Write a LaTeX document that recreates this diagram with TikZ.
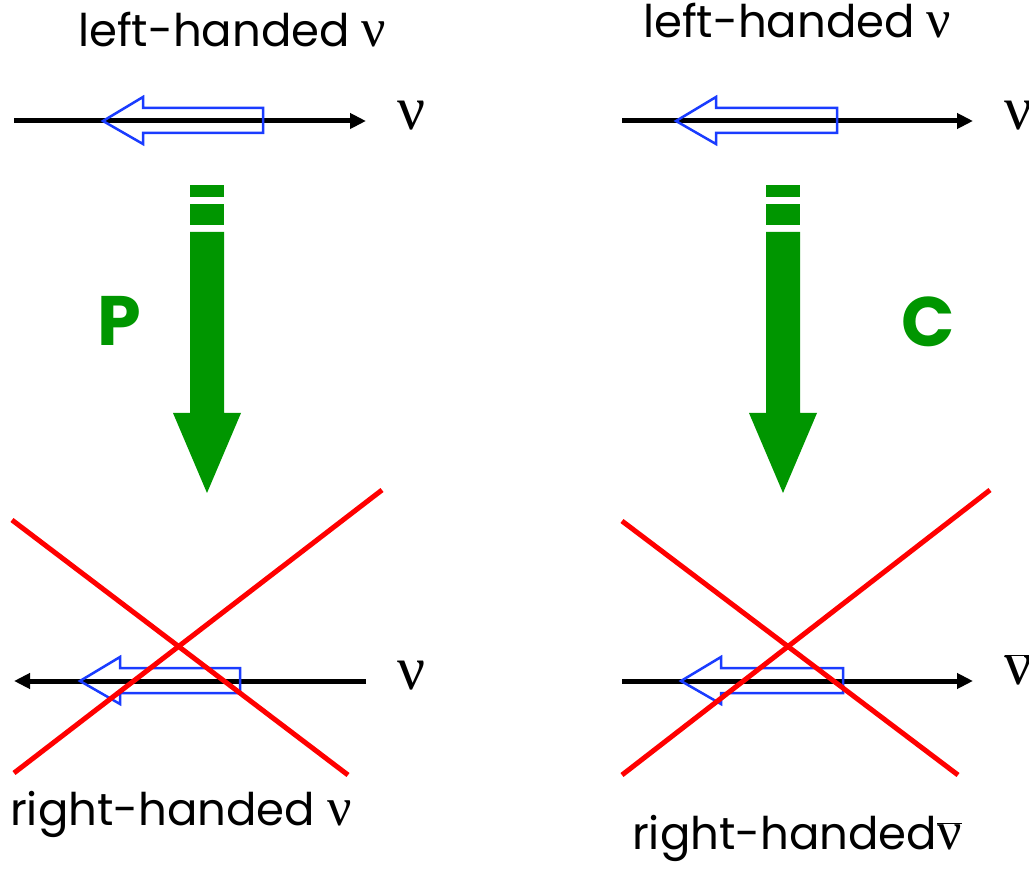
\documentclass[tikz,border=0pt]{standalone}
\usepackage{fontspec}
\setmainfont{Poppins}
\newfontfamily\nufont{Liberation Serif}
\usetikzlibrary{arrows.meta,positioning}
\definecolor{parity}{HTML}{009600}
\definecolor{spin}{HTML}{1A3CFF}
\definecolor{veto}{HTML}{FF0000}

\tikzset{
  momentum/.style={line width=5pt,-{Triangle[length=16pt,width=15pt]}},
  spinbox/.style={spin,line width=2.5pt,line join=miter},
  cross/.style={veto,line width=5pt},
  handlabel/.style={font=\fontsize{45}{48}\selectfont,anchor=base west,inner sep=0pt},
  nulabel/.style={font=\nufont\fontsize{62}{62}\selectfont,inner sep=0pt},
  oplabel/.style={font=\fontsize{70}{72}\selectfont\bfseries,text=parity,inner sep=0pt}
}
\newcommand{\smallnu}{{\nufont\fontsize{54}{54}\selectfont ν}}
\newcommand{\smallnubar}{$\overline{\hbox{\nufont\fontsize{54}{54}\selectfont ν}}$}

% hollow spin arrow: tip x, axis y, tail x
\newcommand{\spinarrow}[3]{%
  \draw[spinbox] (#1,#2) -- ++(40,-24) -- ++(0,11) -- (#3,#2-13) -- (#3,#2+12)
    -- (#1+40,#2+12) -- ++(0,11) -- cycle;}

% thick green operation arrow: centre x
\newcommand{\oparrow}[1]{%
  \fill[parity] (#1-17,185) rectangle (#1+17,197);
  \fill[parity] (#1-17,204) rectangle (#1+17,225);
  \fill[parity] (#1-17,232) -- (#1+17,232) -- (#1+17,413) -- (#1+34,413)
    -- (#1,493) -- (#1-34,413) -- (#1-17,413) -- cycle;}

\begin{document}
\begin{tikzpicture}[x=1pt,y=-1pt]
  \useasboundingbox (0,0) rectangle (1029,874);

  % P : left column
  \node[handlabel] (lhP) at (78,47) {left-handed \smallnu};
  \coordinate (aP1) at (14,121);
  \coordinate (bP1) at (366,121);
  \draw[momentum] (aP1) -- (bP1);
  \spinarrow{103}{121}{263}
  \node[nulabel] (nuP1) at (412,116) {ν};

  \oparrow{207}
  \node[oplabel] (opP) at (119,321) {P};

  \coordinate (aP2) at (14,681);
  \coordinate (bP2) at (366,681);
  \draw[momentum] (bP2) -- (aP2);
  \spinarrow{80}{681}{240}
  \node[nulabel] (nuP2) at (412,676) {ν};
  \draw[cross] (12,520) -- (348,775);
  \draw[cross] (14,773) -- (382,490);
  \node[handlabel] (rhP) at (10,825) {right-handed \smallnu};

  % C : right column
  \node[handlabel] (lhC) at (643,38) {left-handed \smallnu};
  \coordinate (aC1) at (622,121);
  \coordinate (bC1) at (973,121);
  \draw[momentum] (aC1) -- (bC1);
  \spinarrow{676}{121}{837}
  \node[nulabel] (nuC1) at (1019,116) {ν};

  \oparrow{783}
  \node[oplabel] (opC) at (928,322) {C};

  \coordinate (aC2) at (622,681);
  \coordinate (bC2) at (973,681);
  \draw[momentum] (aC2) -- (bC2);
  \spinarrow{681}{681}{843}
  \node[nulabel] (nuC2) at (1019,670) {$\overline{\hbox{\nufont ν}}$};
  \draw[cross] (622,521) -- (958,775);
  \draw[cross] (622,775) -- (990,490);
  \node[handlabel] (rhC) at (632,849) {right-handed\smallnubar};
\end{tikzpicture}
\end{document}
